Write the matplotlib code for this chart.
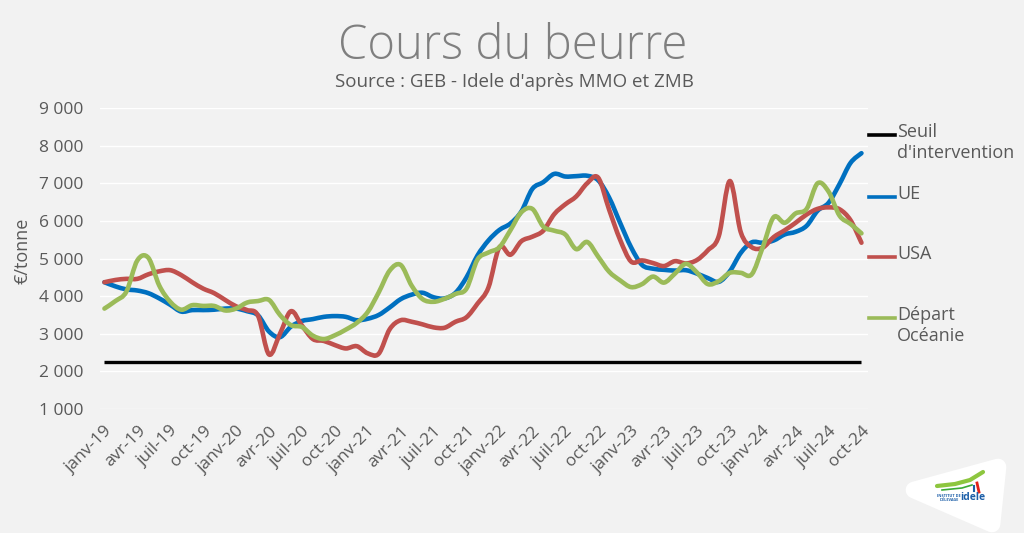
import numpy as np
import matplotlib.pyplot as plt
from matplotlib.lines import Line2D
from matplotlib.patches import Polygon, PathPatch
from matplotlib.path import Path

#
# Cours du beurre - prix mensuels en EUR/tonne, janv-19 a oct-24
#

plt.rcParams['font.family'] = ['Open Sans', 'DejaVu Sans']

mois = ['janv', 'avr', 'juil', 'oct']
annees = ['19', '20', '21', '22', '23', '24']
tick_labels = [f'{m}-{a}' for a in annees for m in mois]

y_ticks = [1000, 2000, 3000, 4000, 5000, 6000, 7000, 8000, 9000]

seuil = 2250

ue = [4370, 4260, 4180, 4150, 4080, 3940, 3770, 3590, 3630, 3630,
      3640, 3670, 3670, 3600, 3490, 3060, 2910, 3190, 3340, 3390,
      3450, 3470, 3450, 3360, 3400, 3500, 3700, 3920, 4040, 4090,
      3970, 3940, 4090, 4500, 5080, 5480, 5760, 5930, 6250, 6850,
      7030, 7250, 7180, 7190, 7200, 7080, 6620, 5950, 5300, 4830,
      4730, 4700, 4680, 4690, 4600, 4480, 4380, 4660, 5150, 5430,
      5420, 5480, 5640, 5710, 5870, 6270, 6480, 6980, 7540, 7800]

usa = [4370, 4430, 4460, 4460, 4580, 4660, 4690, 4560, 4370, 4200,
       4080, 3900, 3730, 3630, 3480, 2450, 3000, 3600, 3220, 2860,
       2810, 2700, 2610, 2670, 2480, 2470, 3120, 3360, 3320, 3250,
       3170, 3160, 3320, 3440, 3800, 4230, 5300, 5100, 5460, 5580,
       5740, 6180, 6440, 6650, 7000, 7150, 6300, 5500, 4920, 4950,
       4880, 4800, 4930, 4870, 4960, 5220, 5600, 7060, 5700, 5300,
       5290, 5570, 5750, 5950, 6170, 6320, 6360, 6310, 6020, 5420]

oceanie = [3670, 3870, 4120, 4950, 5020, 4280, 3850, 3640, 3760, 3740,
           3740, 3620, 3670, 3830, 3870, 3900, 3500, 3230, 3180, 2950,
           2860, 2960, 3110, 3290, 3580, 4100, 4680, 4830, 4280, 3920,
           3850, 3930, 4060, 4200, 4970, 5160, 5300, 5750, 6230, 6320,
           5850, 5740, 5640, 5250, 5440, 5050, 4650, 4420, 4240, 4320,
           4520, 4360, 4600, 4860, 4630, 4320, 4400, 4620, 4620, 4580,
           5300, 6100, 5950, 6200, 6320, 7000, 6780, 6140, 5920, 5670]

noms = ["Seuil\nd'intervention", 'UE', 'USA', 'Départ\nOcéanie']
couleurs = ['black', '#0070c0', '#c0504d', '#9bbb59']

bg = '#f2f2f2'
gris = '#595959'


def courbe_lissee(xs, ys):
    # ligne lissee comme dans Excel : bezier cubique passant par chaque point
    pts = np.column_stack([xs, ys]).astype(float)
    n = len(pts)
    verts = [pts[0]]
    codes = [Path.MOVETO]
    for i in range(n - 1):
        p0 = pts[max(i - 1, 0)]
        p1 = pts[i]
        p2 = pts[i + 1]
        p3 = pts[min(i + 2, n - 1)]
        verts += [p1 + (p2 - p0) / 6, p2 - (p3 - p1) / 6, p2]
        codes += [Path.CURVE4] * 3
    return Path(verts, codes)


fig = plt.figure(figsize=(10.24, 5.33), dpi=100)
fig.patch.set_facecolor(bg)
ax = fig.add_axes([0.0977, 0.2326, 0.75, 0.5647])
ax.set_facecolor(bg)

x = np.arange(len(ue))
ax.plot(x, [seuil] * len(x), color=couleurs[0], lw=2.4, solid_capstyle='butt')
for serie, c in zip([ue, usa, oceanie], couleurs[1:]):
    ax.add_patch(PathPatch(courbe_lissee(x, serie), fill=False, edgecolor=c, lw=3.3,
                           joinstyle='round', capstyle='round'))

ax.set_xlim(-0.4, 69.6)
ax.set_ylim(1000, 9000)
ax.set_yticks(y_ticks)
ax.set_yticklabels([f'{v:,}'.replace(',', ' ') for v in y_ticks], fontsize=12.5, color=gris)
ax.set_xticks(range(0, len(x), 3))
ax.set_xticklabels(tick_labels, rotation=45, ha='right', rotation_mode='anchor',
                   fontsize=12.5, color=gris)
ax.tick_params(axis='y', length=0, pad=12)
ax.tick_params(axis='x', length=0, pad=10)
ax.grid(axis='y', color='white', lw=1.0)
ax.set_axisbelow(True)
for s in ax.spines.values():
    s.set_visible(False)

# titres
fig.text(0.501, 0.912, 'Cours du beurre', ha='center', va='center', fontsize=34,
         fontweight='light', color='#7f7f7f')
fig.text(0.502, 0.846, "Source : GEB - Idele d'après MMO et ZMB", ha='center', va='center',
         fontsize=13.5, color=gris)
fig.text(0.022, 0.53, '€/tonne', rotation=90, ha='center', va='center', fontsize=13, color=gris)

# legende a droite
leg_y = [135, 197, 257, 318]
for nom, c, yp in zip(noms, couleurs, leg_y):
    yf = 1 - yp / 533
    fig.add_artist(Line2D([869 / 1024, 895 / 1024], [yf, yf], color=c, lw=2.6,
                          transform=fig.transFigure))
    fig.text(897 / 1024, yf + 12 / 533, nom, ha='left', va='top', fontsize=13,
             color=gris, linespacing=1.2)


# logo idele (approximatif)
def fc(px, py):
    return (px / 1024, 1 - py / 533)


logo = Polygon([fc(914, 490), fc(998, 467), fc(992, 524)],
               closed=True, transform=fig.transFigure, facecolor='white', edgecolor='white',
               lw=12, joinstyle='round')
fig.add_artist(logo)
sw = np.array([fc(937, 486), fc(955, 484), fc(970, 480), fc(983, 472)])
fig.add_artist(Line2D(sw[:, 0], sw[:, 1], color='#8dc63f', lw=3, solid_capstyle='round',
                      transform=fig.transFigure))
sw2 = np.array([fc(942, 490), fc(962, 488), fc(972, 485)])
fig.add_artist(Line2D(sw2[:, 0], sw2[:, 1], color='#3aaa35', lw=1.2,
                      transform=fig.transFigure))
fig.add_artist(Line2D([fc(977, 483)[0], fc(979, 492)[0]], [fc(977, 483)[1], fc(979, 492)[1]],
                      color='#e2231a', lw=2, transform=fig.transFigure))
fig.add_artist(Line2D([fc(974, 486)[0], fc(974, 491)[0]], [fc(974, 486)[1], fc(974, 491)[1]],
                      color='#1d5fa8', lw=1.5, transform=fig.transFigure))
fig.text(*fc(973, 498), 'idele', ha='center', va='center', fontsize=7.5,
         fontweight='bold', color='#1d5fa8')
fig.text(*fc(949, 498), "INSTITUT DE\nL'ÉLEVAGE", ha='center', va='center',
         fontsize=2.8, fontweight='bold', color='#1d5fa8', linespacing=1.0)

fig.savefig('out.png', dpi=100, facecolor=bg)
